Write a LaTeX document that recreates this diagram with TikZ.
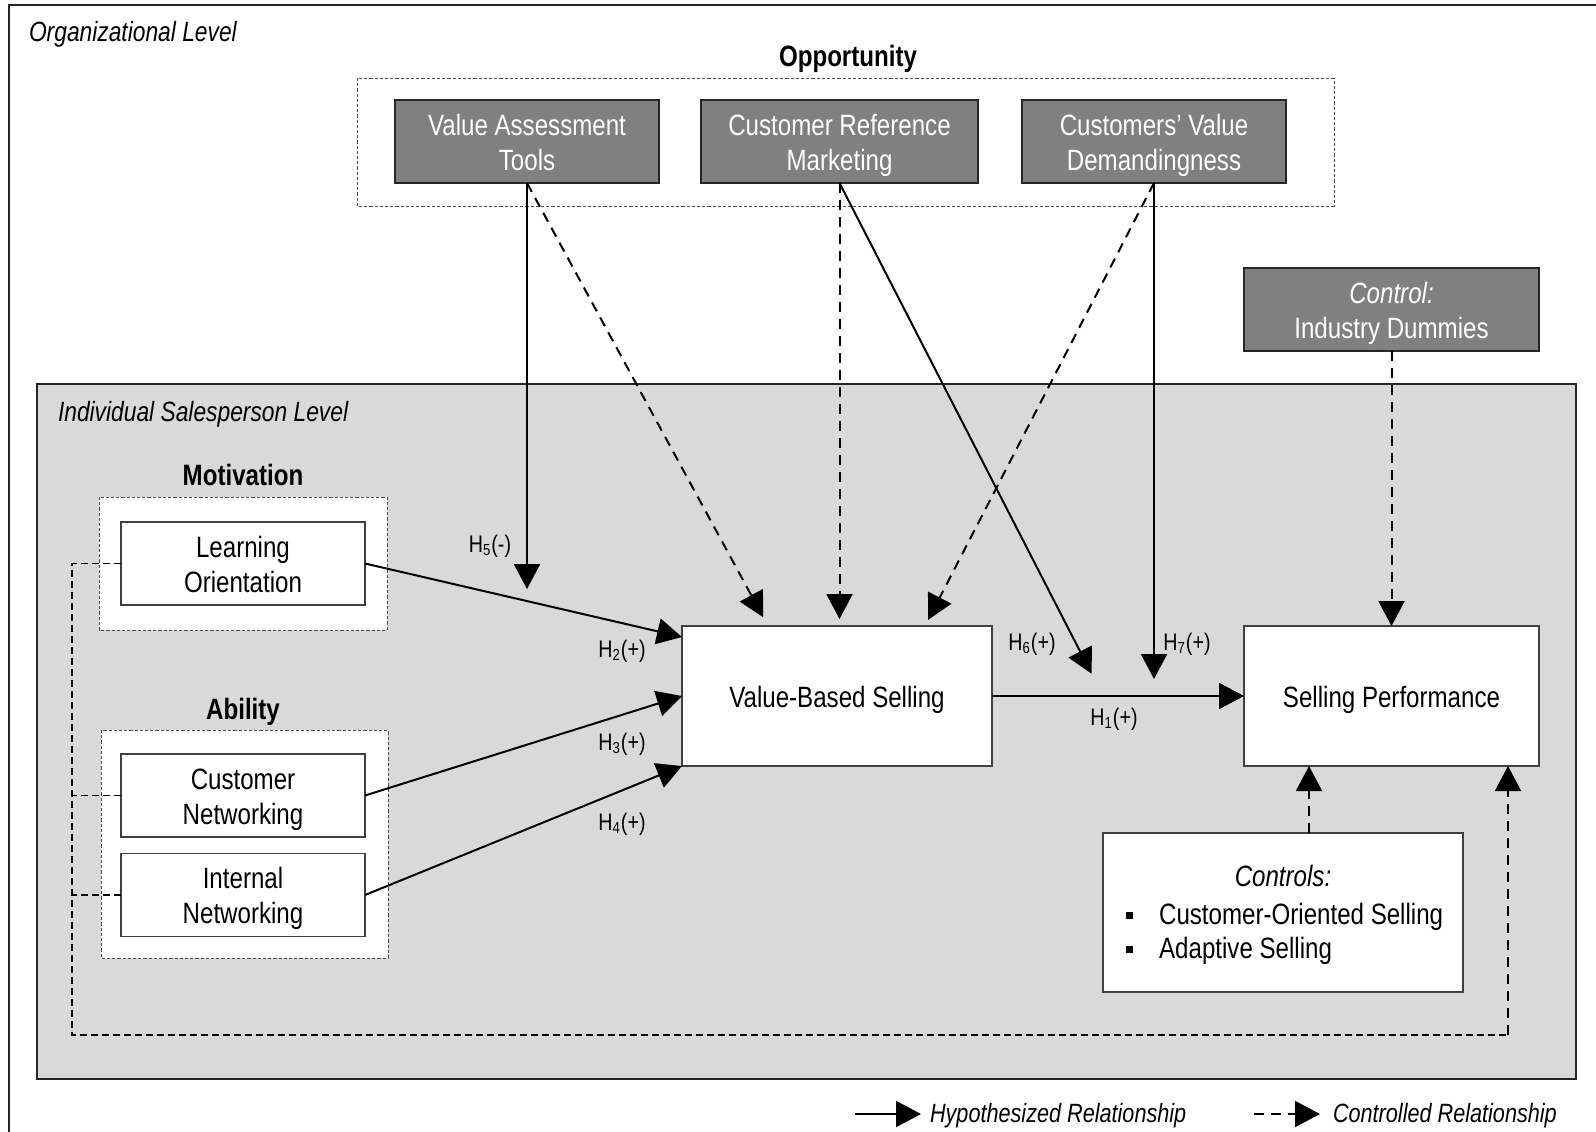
\documentclass[tikz,border=0pt]{standalone}
\usepackage{fontspec}
\setmainfont{Liberation Sans}[FakeStretch=0.82]
\usetikzlibrary{arrows.meta,calc}
\definecolor{boxgray}{RGB}{128,128,128}
\definecolor{bggray}{RGB}{217,217,217}
\newcommand{\ls}{\rule[-3.25pt]{0pt}{17.5pt}}
\begin{document}
\begin{tikzpicture}[x=0.5pt,y=-0.5pt,
  every node/.style={inner sep=0pt, outer sep=0pt},
  mainfont/.style={font=\fontsize{14.7}{17.5}\selectfont},
  darkbox/.style={draw=black!85, line width=0.6pt, fill=boxgray, text=white, align=center, mainfont, minimum height=41.5pt},
  whitebox/.style={draw=black!75, line width=0.6pt, fill=white, align=center, mainfont},
  groupbox/.style={draw=black!70, line width=0.5pt, dash pattern=on 1.6pt off 1pt, fill=white},
  arr/.style={line width=1pt, -{Triangle[length=12.5pt,width=13pt]}},
  darr/.style={arr, dash pattern=on 5pt off 3.5pt},
  loopline/.style={line width=0.55pt, dash pattern=on 3.5pt off 2pt},
  hlab/.style={font=\fontsize{12}{14}\selectfont},
  boldlab/.style={font=\bfseries\fontsize{14.7}{17.5}\selectfont},
  levlab/.style={anchor=west, font=\itshape\fontsize{13.9}{16}\selectfont},
  leglab/.style={anchor=west, font=\itshape\fontsize{13.2}{16}\selectfont},
]
\useasboundingbox (0,0) rectangle (1596,1131);
% frames
\fill[white] (0,0) rectangle (1596,1131);
\draw[line width=1pt, black!85] (9,1145) -- (9,5) -- (1610,5);
\draw[line width=0.9pt, draw=black!85, fill=bggray] (37,384) rectangle (1576,1079);
\draw[groupbox] (357,78) rectangle (1334,206);
\draw[groupbox] (99,497) rectangle (387,630);
\draw[groupbox] (101,730) rectangle (388,958);
% labels
\node[levlab] (orglvl) at (29,34) {Organizational Level};
\node[levlab] (indlvl) at (58,414) {Individual Salesperson Level};
\node[boldlab] (opp) at (848,59) {Opportunity};
\node[boldlab] (motlab) at (243,475) {Motivation};
\node[boldlab] (ablab) at (243,712) {Ability};
% nodes
\node[darkbox, minimum width=132pt] (vat) at (527,141.5) {\ls Value Assessment\\\ls Tools};
\node[darkbox, minimum width=138.5pt] (crm) at (839.5,141.5) {\ls Customer Reference\\\ls Marketing};
\node[darkbox, minimum width=132pt] (cvd) at (1154,141.5) {\ls Customers’ Value\\\ls Demandingness};
\node[darkbox, minimum width=147.5pt] (ind) at (1391.5,309.5) {\ls\textit{Control:}\\\ls Industry Dummies};
\node[whitebox, minimum width=122pt, minimum height=41.5pt] (lo) at (243,563.5) {\ls Learning\\\ls Orientation};
\node[whitebox, minimum width=122pt, minimum height=41.5pt] (cn) at (243,795.5) {\ls Customer\\\ls Networking};
\node[whitebox, minimum width=122pt, minimum height=41.5pt] (inet) at (243,895) {\ls Internal\\\ls Networking};
\node[whitebox, minimum width=155pt, minimum height=70pt] (vbs) at (837,696) {\ls Value-Based Selling};
\node[whitebox, minimum width=147.5pt, minimum height=70pt] (sp) at (1391.5,696) {\ls Selling Performance};
\node[whitebox, minimum width=180pt, minimum height=79.5pt] (ctrl) at (1283,912.5) {};
\node[font=\itshape\fontsize{14.7}{17.5}\selectfont] (ctrlt) at (1283,875) {\ls Controls:};
\node[anchor=west, mainfont] (cb1) at (1125.5,913) {\ls\rule[2.6pt]{3.5pt}{3.5pt}\hspace{13.3pt}Customer-Oriented Selling};
\node[anchor=west, mainfont] (cb2) at (1125.5,947) {\ls\rule[2.6pt]{3.5pt}{3.5pt}\hspace{13.3pt}Adaptive Selling};
% connectors
\coordinate (h2end) at ($(vbs.north west)+(0,11)$);
\draw[arr] (lo.east) -- (h2end) coordinate[pos=0.511] (m5);
\draw[arr] (cn.east) -- (vbs.west);
\draw[arr] (inet.east) -- (vbs.south west);
\draw[arr, shorten >=6pt] (vat.south) -- (vat.south |- m5);
\coordinate (d1) at ($(vbs.north west)+(86,0)$);
\coordinate (d3) at ($(vbs.north west)+(243,0)$);
\draw[darr, shorten >=5pt] (vat.south) -- (d1);
\draw[darr, shorten >=3.5pt] (crm.south) -- (crm.south |- vbs.north);
\draw[darr, shorten >=3.5pt] (cvd.south) -- (d3);
\coordinate (m6) at ($(vbs.east)+(111,0)$);
\coordinate (m7) at (cvd.south |- vbs.east);
\draw[arr, shorten >=12.5pt] (crm.south) -- (m6);
\draw[arr, shorten >=8.5pt] (cvd.south) -- (m7);
\draw[arr] (vbs.east) -- (sp.west);
\draw[darr] (ind.south) -- (sp.north);
\coordinate (c1) at ($(ctrl.north)+(26,0)$);
\draw[darr] (c1) -- (c1 |- sp.south);
\coordinate (lb) at (72,1035);
\coordinate (rb) at (1508,1035);
\draw[loopline] (lo.west) -| (lb) -- (rb);
\draw[darr] (rb) -- (rb |- sp.south);
\draw[loopline] (cn.west) -- (cn.west -| lb);
\draw[loopline] (inet.west) -- (inet.west -| lb);
% hypothesis labels
\node[hlab] (l5) at (490,546) {H\textsubscript{5}(-)};
\node[hlab] (l2) at (622,651) {H\textsubscript{2}(+)};
\node[hlab] (l3) at (622,744) {H\textsubscript{3}(+)};
\node[hlab] (l4) at (622,824) {H\textsubscript{4}(+)};
\node[hlab] (l6) at (1032,644) {H\textsubscript{6}(+)};
\node[hlab] (l7) at (1187,644) {H\textsubscript{7}(+)};
\node[hlab] (l1) at (1114,719) {H\textsubscript{1}(+)};
% legend
\node[leglab] (lg1) at (930,1116) {Hypothesized Relationship};
\node[leglab] (lg2) at (1333,1116) {Controlled Relationship};
\coordinate (la1) at ($(lg1.west)+(-75,-2)$);
\coordinate (la2) at ($(lg1.west)+(-9,-2)$);
\coordinate (lc1) at ($(lg2.west)+(-79,-2)$);
\coordinate (lc2) at ($(lg2.west)+(-13,-2)$);
\draw[arr] (la1) -- (la2);
\draw[darr] (lc1) -- (lc2);
\end{tikzpicture}
\end{document}
